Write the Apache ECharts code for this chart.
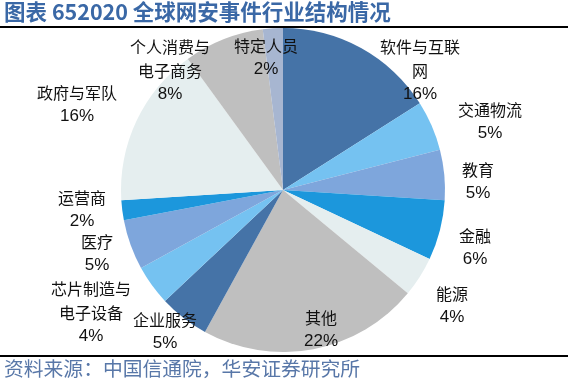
<!DOCTYPE html>
<html><head><meta charset="utf-8">
<script src="https://cdn.jsdelivr.net/npm/echarts@6/dist/echarts.min.js"></script>
<style>html,body{margin:0;padding:0;background:#fff}#c{width:568px;height:387px}</style>
</head><body><div id="c"></div>
<script>
const categories = ['软件与互联网','交通物流','教育','金融','能源','其他','企业服务','芯片制造与电子设备','医疗','运营商','政府与军队','个人消费与电子商务','特定人员'];
const labelNames = ['软件与互联\n网','交通物流','教育','金融','能源','其他','企业服务','芯片制造与\n电子设备','医疗','运营商','政府与军队','个人消费与\n电子商务','特定人员'];
const values = [16,5,5,6,4,22,5,4,5,2,16,8,2];
const colors = ['#4573A7','#75C2F1','#7EA6DC','#1C97DC','#E5EEEF','#BFBFBF','#4573A7','#75C2F1','#7EA6DC','#1C97DC','#E5EEEF','#BFBFBF','#A7B6D1'];
const labelPos = [[420,70],[490,121],[478,181],[475,247],[452,305],[321,329],[165,331],[91,312],[97,253],[82,209],[77,104],[170,70],[266,57]];

const chart = echarts.init(document.getElementById('c'));
chart.setOption({
  animation:false,
  graphic:[
    {type:'text',left:4,top:1,style:{text:'图表 652020 全球网安事件行业结构情况',font:'bold 21.5px "Noto Sans CJK SC"',fill:'#3A68A6'}},
    {type:'rect',shape:{x:0,y:26,width:568,height:2},style:{fill:'#000'}},
    {type:'rect',shape:{x:0,y:355,width:568,height:2},style:{fill:'#000'}},
    {type:'text',left:4,top:359,style:{text:'资料来源：中国信通院，华安证券研究所',font:'19.8px "Noto Sans CJK SC"',fill:'#5877A8'}}
  ],
  series:[{
    type:'pie',
    center:[283,190],
    radius:162,
    startAngle:90,
    clockwise:true,
    data:categories.map((n,i)=>({name:n,value:values[i],itemStyle:{color:colors[i]},
      label:{formatter:'{n|'+labelNames[i].split('\n').join('}\n{n|')+'}\n{p|'+values[i]+'%}'}})),
    label:{show:true,position:'outside',overflow:'none',edgeDistance:0,
      rich:{n:{fontFamily:'"Noto Sans CJK SC"',fontSize:16,color:'#111',lineHeight:24,align:'center'},
            p:{fontFamily:'"Liberation Sans", Arial',fontSize:17,color:'#111',lineHeight:22,align:'center'}}},
    labelLine:{show:false},
    labelLayout:function(p){const q=labelPos[p.dataIndex];return {x:q[0],y:q[1],align:'center',verticalAlign:'middle'};},
    emphasis:{disabled:true}
  }]
});
</script></body></html>
